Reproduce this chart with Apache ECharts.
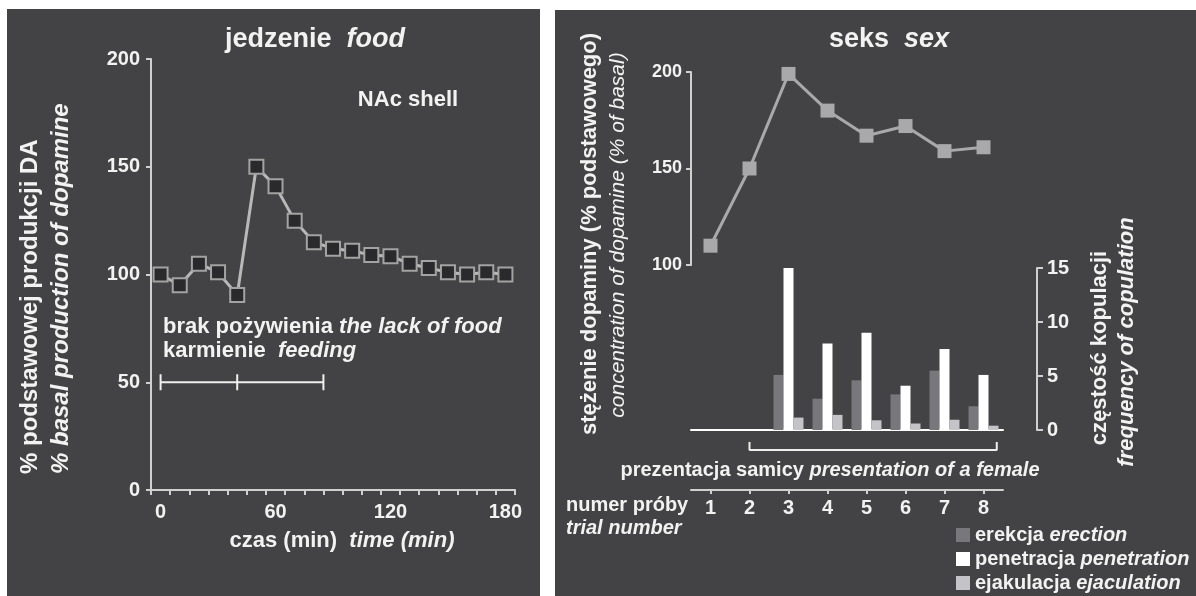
<!DOCTYPE html>
<html>
<head>
<meta charset="utf-8">
<script src="https://cdn.jsdelivr.net/npm/echarts@6.0.0/dist/echarts.min.js"></script>
<style>
  html, body { margin: 0; padding: 0; background: #ffffff; }
  #chart { width: 1196px; height: 596px; }
</style>
</head>
<body>
<div id="chart"></div>
<script>
// --- food panel data ---
const foodTime = [0, 10, 20, 30, 40, 50, 60, 70, 80, 90, 100, 110, 120, 130, 140, 150, 160, 170, 180];
const foodDA = [100, 95, 105, 101, 90.5, 150, 141, 125, 115, 112, 111, 109, 108.5, 105, 103, 101, 100, 101, 100];
const foodTimeLabels = [0, 60, 120, 180];
const foodTimeTicks = [-5, 5, 15, 25, 35, 45, 55, 65, 75, 85, 95, 105, 115, 125, 135, 145, 155, 165, 175, 185];
const foodPeriods = [0, 40, 85]; // lack of food 0-40, feeding 40-85

// --- sex panel data ---
const trials = ['1', '2', '3', '4', '5', '6', '7', '8'];
const sexDA = [110, 150, 199, 180, 167, 172, 159, 161];
const erection = [0, 0, 5.1, 2.9, 4.6, 3.3, 5.5, 2.2];
const penetration = [0, 0, 15, 8, 9, 4.1, 7.5, 5.1];
const ejaculation = [0, 0, 1.15, 1.4, 0.9, 0.6, 0.95, 0.4];
const femaleFrom = 2, femaleTo = 8.34;

const FONT = '"Liberation Sans", Arial, Helvetica, sans-serif';
const TXT = '#f2f2f2';
const AXIS = '#d0d0d0';
const PANEL = '#434345';

const rich = (size) => ({
  b: { fontFamily: FONT, fontSize: size, fontWeight: 'bold', fill: TXT },
  i: { fontFamily: FONT, fontSize: size, fontWeight: 'bold', fontStyle: 'italic', fill: TXT },
  n: { fontFamily: FONT, fontSize: size, fontWeight: 'normal', fontStyle: 'italic', fill: TXT }
});

function label(x, y, text, size, opts) {
  opts = opts || {};
  return {
    type: 'text', x: x, y: y, z: 10, rotation: opts.rotation || 0,
    style: {
      text: text, rich: rich(size), fill: TXT, fontFamily: FONT, fontSize: size,
      fontWeight: 'bold', align: opts.align || 'center', verticalAlign: 'middle'
    }
  };
}

const labelStyle = (size) => ({ color: TXT, fontFamily: FONT, fontSize: size, fontWeight: 'bold' });
const lineAxis = { show: true, onZero: false, lineStyle: { color: AXIS, width: 2 } };
const UP = Math.PI / 2;

const chart = echarts.init(document.getElementById('chart'));

chart.setOption({
  animation: false,
  backgroundColor: '#ffffff',
  grid: [
    { left: 151, top: 59, width: 364, height: 431, outerBoundsMode: 'none' },
    { left: 691, top: 72, width: 312, height: 193, outerBoundsMode: 'none' },
    { left: 691, top: 268, width: 312, height: 162, outerBoundsMode: 'none' },
    { left: 691, top: 440, width: 312, height: 50, outerBoundsMode: 'none' }
  ],
  xAxis: [
    {
      gridIndex: 0, type: 'value', min: -5, max: 185,
      axisLine: lineAxis,
      axisTick: { show: true, length: 5, lineStyle: { color: AXIS, width: 2 }, customValues: foodTimeTicks },
      axisLabel: Object.assign({ margin: 12, customValues: foodTimeLabels }, labelStyle(20)),
      splitLine: { show: false }
    },
    { gridIndex: 1, type: 'category', data: trials, show: false },
    {
      gridIndex: 2, type: 'category', data: trials,
      axisLine: { show: true, onZero: false, lineStyle: { color: '#ffffff', width: 2 } },
      axisTick: { show: false }, axisLabel: { show: false }
    },
    {
      gridIndex: 3, type: 'category', data: trials, position: 'bottom',
      axisLine: lineAxis,
      axisTick: { show: true, alignWithLabel: true, length: 4, lineStyle: { color: AXIS, width: 2 } },
      axisLabel: Object.assign({ margin: 8 }, labelStyle(20))
    },
    { gridIndex: 3, type: 'value', min: 0.5, max: 8.5, position: 'top', show: false }
  ],
  yAxis: [
    {
      gridIndex: 0, type: 'value', min: 0, max: 200, interval: 50,
      axisLine: lineAxis,
      axisTick: { show: true, length: 5, lineStyle: { color: AXIS, width: 2 } },
      axisLabel: Object.assign({ margin: 11 }, labelStyle(20)),
      splitLine: { show: false }
    },
    {
      gridIndex: 1, type: 'value', min: 100, max: 200, interval: 50,
      axisLine: lineAxis,
      axisTick: { show: true, length: 5, lineStyle: { color: AXIS, width: 2 } },
      axisLabel: Object.assign({ margin: 9 }, labelStyle(18)),
      splitLine: { show: false }
    },
    {
      gridIndex: 2, type: 'value', min: 0, max: 15, interval: 5, position: 'right', offset: 34,
      axisLine: lineAxis,
      axisTick: { show: true, length: 6, lineStyle: { color: AXIS, width: 2 } },
      axisLabel: Object.assign({ margin: 10 }, labelStyle(20)),
      splitLine: { show: false }
    },
    { gridIndex: 3, type: 'value', min: 0, max: 50, inverse: true, show: false }
  ],
  legend: {
    data: ['erekcja erection', 'penetracja penetration', 'ejakulacja ejaculation'],
    orient: 'vertical', left: 956, top: 525, padding: 0,
    itemWidth: 14, itemHeight: 14, itemGap: 4, icon: 'rect',
    textStyle: { color: TXT, fontFamily: FONT, fontSize: 20, lineHeight: 20, rich: {
      b: { color: TXT, fontFamily: FONT, fontSize: 20, fontWeight: 'bold' },
      i: { color: TXT, fontFamily: FONT, fontSize: 20, fontWeight: 'bold', fontStyle: 'italic' }
    } },
    formatter: (name) => {
      const p = name.split(' ');
      return '{b|' + p[0] + '} {i|' + p[1] + '}';
    }
  },
  graphic: [
    { type: 'rect', z: -10, shape: { x: 7, y: 9, width: 533, height: 587 }, style: { fill: PANEL } },
    { type: 'rect', z: -10, shape: { x: 555, y: 10, width: 641, height: 586 }, style: { fill: PANEL } },

    label(315, 40, '{b|jedzenie  }{i|food}', 27),
    label(408, 100, '{b|NAc shell}', 22),
    label(163, 327, '{b|brak pożywienia }{i|the lack of food}', 22, { align: 'left' }),
    label(163, 351, '{b|karmienie  }{i|feeding}', 22, { align: 'left' }),
    label(342, 541, '{b|czas (min)  }{i|time (min)}', 22),
    label(30, 474, '{b|% podstawowej produkcji DA}', 24, { rotation: UP, align: 'left' }),
    label(61, 474, '{i|% basal production of dopamine}', 24, { rotation: UP, align: 'left' }),

    label(889, 40, '{b|seks  }{i|sex}', 27),
    label(590, 234, '{b|stężenie dopaminy (% podstawowego)}', 22, { rotation: UP }),
    label(618, 235, '{n|concentration of dopamine (% of basal)}', 21, { rotation: UP }),
    label(1100, 348, '{b|częstość kopulacji}', 22, { rotation: UP }),
    label(1127, 342, '{i|frequency of copulation}', 22, { rotation: UP }),
    label(830, 470, '{b|prezentacja samicy }{i|presentation of a female}', 20),
    label(566, 505, '{b|numer próby}', 20, { align: 'left' }),
    label(566, 528, '{i|trial number}', 20, { align: 'left' })
  ],
  series: [
    {
      type: 'line', xAxisIndex: 0, yAxisIndex: 0, z: 4,
      data: foodTime.map((t, i) => [t, foodDA[i]]),
      symbol: 'rect', symbolSize: 14,
      itemStyle: { color: '#2a2a2c', borderColor: '#a3a3a3', borderWidth: 2 },
      lineStyle: { color: '#b8b8b8', width: 3 }
    },
    {
      type: 'line', xAxisIndex: 0, yAxisIndex: 0, z: 3,
      data: foodPeriods.map((t) => [t, 50]),
      symbol: 'rect', symbolSize: [2, 16],
      itemStyle: { color: '#f0f0f0' },
      lineStyle: { color: '#f0f0f0', width: 2 }
    },
    {
      type: 'line', xAxisIndex: 1, yAxisIndex: 1, z: 4,
      data: sexDA,
      symbol: 'rect', symbolSize: 14,
      itemStyle: { color: '#a9a9ab' },
      lineStyle: { color: '#a9a9ab', width: 3 }
    },
    {
      name: 'erekcja erection', type: 'bar', xAxisIndex: 2, yAxisIndex: 2,
      data: erection, barWidth: 10, barGap: '0%', itemStyle: { color: '#78787c' }
    },
    {
      name: 'penetracja penetration', type: 'bar', xAxisIndex: 2, yAxisIndex: 2,
      data: penetration, barWidth: 10, barGap: '0%', itemStyle: { color: '#ffffff' }
    },
    {
      name: 'ejakulacja ejaculation', type: 'bar', xAxisIndex: 2, yAxisIndex: 2,
      data: ejaculation, barWidth: 10, barGap: '0%', itemStyle: { color: '#c4c4c8' }
    },
    {
      type: 'line', xAxisIndex: 4, yAxisIndex: 3, symbol: 'none',
      data: [[femaleFrom, 2], [femaleFrom, 10], [femaleTo, 10], [femaleTo, 2]],
      lineStyle: { color: '#eeeeee', width: 2 }
    }
  ]
});
</script>
</body>
</html>
